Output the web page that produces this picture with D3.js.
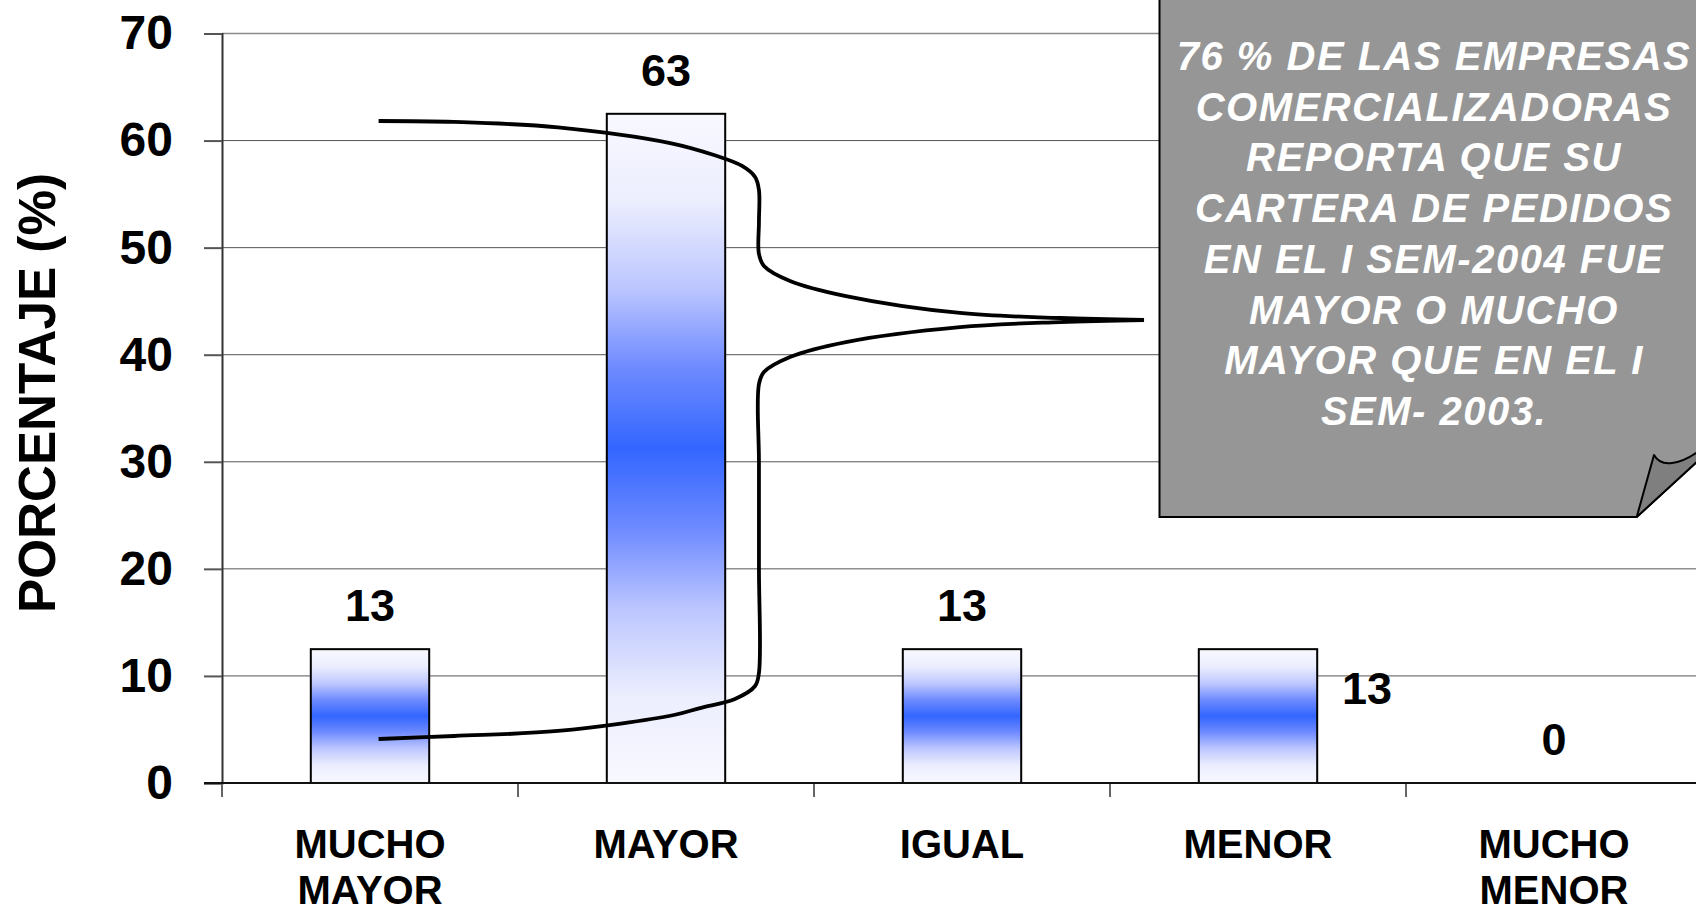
<!DOCTYPE html>
<html>
<head>
<meta charset="utf-8">
<script src="https://cdn.jsdelivr.net/npm/d3@7/dist/d3.min.js"></script>
<style>
  html, body { margin: 0; padding: 0; background: #ffffff; }
  svg { display: block; }
  text { font-family: "Liberation Sans", Arial, Helvetica, sans-serif; font-weight: bold; }
</style>
</head>
<body>
<svg id="chart" width="1696" height="912"></svg>
<script>
// ---- data ----
const categories = ["MUCHO MAYOR", "MAYOR", "IGUAL", "MENOR", "MUCHO MENOR"];
const categoryLines = [["MUCHO", "MAYOR"], ["MAYOR"], ["IGUAL"], ["MENOR"], ["MUCHO", "MENOR"]];
const values = [12.5, 62.5, 12.5, 12.5, 0];
const valueLabels = ["13", "63", "13", "13", "0"];
const yTicks = [0, 10, 20, 30, 40, 50, 60, 70];
const yTitle = "PORCENTAJE (%)";
const noteLines = [
  "76 % DE LAS EMPRESAS",
  "COMERCIALIZADORAS",
  "REPORTA QUE SU",
  "CARTERA DE PEDIDOS",
  "EN EL I SEM-2004 FUE",
  "MAYOR O MUCHO",
  "MAYOR QUE EN EL I",
  "SEM- 2003."
];
// brace annotation, in [category units, value units]
const braceUpper = [
  [0.529, 61.83], [0.784, 61.74], [1.135, 61.24], [1.514, 59.77], [1.662, 58.65],
  [1.757, 57.63], [1.801, 56.60], [1.814, 55.39], [1.814, 52.40], [1.814, 49.41], [1.831, 48.29],
  [1.919, 46.89], [2.108, 45.48], [2.493, 43.90], [2.831, 43.43], [3.115, 43.24]
];
const braceLower = [
  [3.115, 43.24], [2.831, 43.05], [2.493, 42.58], [2.108, 41.18], [1.919, 39.78],
  [1.831, 38.38], [1.814, 37.26], [1.814, 30.0], [1.814, 20.0], [1.814, 10.27], [1.801, 9.06], [1.733, 7.85],
  [1.615, 7.00], [1.527, 6.35], [1.135, 4.86], [0.784, 4.39], [0.529, 4.11]
];

// ---- layout ----
const plotLeft = 222, plotRight = 1702, plotTop = 33.5, plotBottom = 783;
const svg = d3.select("#chart");

const x = d3.scaleBand().domain(categories).range([plotLeft, plotRight])
  .paddingInner(0.6).paddingOuter(0.3);
const xu = d3.scaleLinear().domain([0, categories.length]).range([plotLeft, plotRight]);
const y = d3.scaleLinear().domain([0, 70]).range([plotBottom, plotTop]);

// gradient
const defs = svg.append("defs");
const grad = defs.append("linearGradient").attr("id", "barGrad")
  .attr("x1", 0).attr("y1", 0).attr("x2", 0).attr("y2", 1);
[[0, "#f8f8ff"], [0.13, "#eceefe"], [0.26, "#bcc6ff"], [0.38, "#6e8aff"], [0.5, "#3366ff"],
 [0.62, "#6e8aff"], [0.74, "#bcc6ff"], [0.87, "#eceefe"], [1, "#f8f8ff"]]
  .forEach(([o, c]) => grad.append("stop").attr("offset", o).attr("stop-color", c));

// gridlines
svg.append("g").selectAll("line").data(yTicks.filter(d => d > 0)).join("line")
  .attr("x1", plotLeft).attr("x2", plotRight)
  .attr("y1", d => y(d)).attr("y2", d => y(d))
  .attr("stroke", d => d === 70 ? "#8a8a8a" : "#555555")
  .attr("stroke-width", d => d === 70 ? 1.6 : 1);

// y axis
const yAxis = d3.axisLeft(y).tickValues(yTicks).tickSize(18).tickFormat(d => d);
const gy = svg.append("g").attr("transform", `translate(${plotLeft},0)`).call(yAxis);
gy.select(".domain").attr("stroke", "#333").attr("stroke-width", 2);
gy.selectAll(".tick line").attr("stroke", "#555").attr("stroke-width", 2);
gy.selectAll(".tick text").attr("x", -49).attr("font-size", 48)
  .attr("font-family", "Liberation Sans, Arial, sans-serif").attr("font-weight", "bold")
  .attr("fill", "#000");

// x axis ticks at category boundaries
const boundaries = d3.range(categories.length + 1);
svg.append("g").selectAll("line").data(boundaries).join("line")
  .attr("x1", d => xu(d)).attr("x2", d => xu(d))
  .attr("y1", plotBottom).attr("y2", plotBottom + 14)
  .attr("stroke", "#666").attr("stroke-width", 2);

// bars
svg.append("g").selectAll("rect").data(categories.map((c, i) => ({ c, v: values[i] })).filter(d => d.v > 0))
  .join("rect")
  .attr("x", d => x(d.c)).attr("width", x.bandwidth())
  .attr("y", d => y(d.v)).attr("height", d => y(0) - y(d.v))
  .attr("fill", "url(#barGrad)").attr("stroke", "#000").attr("stroke-width", 2);

// x axis line
svg.append("line").attr("x1", plotLeft - 18).attr("x2", plotRight)
  .attr("y1", plotBottom).attr("y2", plotBottom)
  .attr("stroke", "#111").attr("stroke-width", 2);

// brace annotation
const line = d3.line().x(d => xu(d[0])).y(d => y(d[1])).curve(d3.curveCatmullRom.alpha(0.5));
[braceUpper, braceLower].forEach(pts => {
  svg.append("path").attr("d", line(pts)).attr("fill", "none")
    .attr("stroke", "#000").attr("stroke-width", 3.8).attr("stroke-linejoin", "miter");
});

// value labels
const labelShift = { "MENOR": [109, 83] };
svg.append("g").selectAll("text").data(categories).join("text")
  .attr("x", (c) => x(c) + x.bandwidth() / 2 + (labelShift[c] ? labelShift[c][0] : 0))
  .attr("y", (c, i) => y(values[i]) - 28 + (labelShift[c] ? labelShift[c][1] : 0))
  .attr("text-anchor", "middle").attr("font-size", 45).attr("fill", "#000")
  .text((c, i) => valueLabels[i]);

// category labels
const gc = svg.append("g");
categories.forEach((c, i) => {
  const t = gc.append("text").attr("text-anchor", "middle").attr("font-size", 40).attr("fill", "#000");
  categoryLines[i].forEach((ln, j) => {
    t.append("tspan").attr("x", x(c) + x.bandwidth() / 2).attr("y", 858 + j * 46).text(ln);
  });
});

// y title
svg.append("text")
  .attr("transform", `translate(55, ${(173 + 613) / 2}) rotate(-90)`)
  .attr("text-anchor", "middle").attr("font-size", 52).attr("fill", "#000")
  .attr("textLength", 440).attr("lengthAdjust", "spacingAndGlyphs")
  .text(yTitle);

// callout box with folded corner
const boxL = 1159.5, boxB = 517, cutX = 1636.7, slope = 0.916;
svg.append("path")
  .attr("d", `M${boxL},-5 L${boxL},${boxB} L${cutX},${boxB} L1760,${boxB - slope * (1760 - cutX)} L1760,-5 Z`)
  .attr("fill", "#969696").attr("stroke", "#000").attr("stroke-width", 2);
svg.append("path")
  .attr("d", `M${cutX},${boxB} L1654,455 C1658,462 1665,464 1672,463 C1682,462 1690,457 1696,453 L1735,${boxB - slope * (1735 - cutX)} Z`)
  .attr("fill", "#7f7f7f").attr("stroke", "#000").attr("stroke-width", 2).attr("stroke-linejoin", "round");

svg.append("g").selectAll("text").data(noteLines).join("text")
  .attr("x", 1434).attr("y", (d, i) => 70 + i * 50.7)
  .attr("text-anchor", "middle").attr("font-size", 40).attr("font-style", "italic")
  .attr("letter-spacing", "1.5px").attr("fill", "#ffffff")
  .text(d => d);
</script>
</body>
</html>
